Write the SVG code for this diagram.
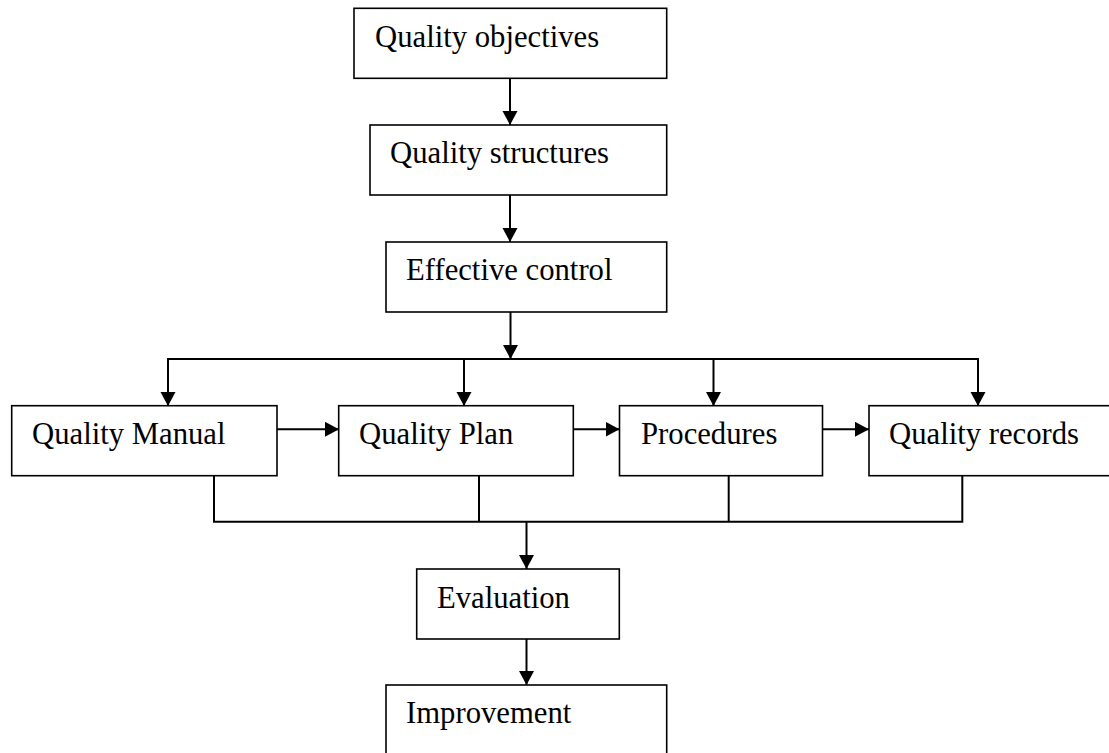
<svg xmlns="http://www.w3.org/2000/svg" width="1109" height="753" viewBox="0 0 1109 753">
<style>
  .box { fill: #ffffff; stroke: #000000; stroke-width: 1.6; }
  .lbl { font-size: 30.7px; fill: #000000; }
  .ln { fill: none; stroke: #000000; stroke-width: 2; }
  .ar { fill: none; stroke: #000000; stroke-width: 2; marker-end: url(#ah); }
</style>
<defs>
  <marker id="ah" markerUnits="userSpaceOnUse" markerWidth="16" markerHeight="16" refX="14" refY="7.5" orient="auto">
    <path d="M0,0 L14,7.5 L0,15 Z" fill="#000000"/>
  </marker>
</defs>
<rect x="0" y="0" width="1109" height="753" fill="#ffffff"/>
<g id="connectors">
  <line class="ar" x1="510" y1="78" x2="510" y2="125"/>
  <line class="ar" x1="510" y1="195" x2="510" y2="242"/>
  <line class="ar" x1="510.5" y1="312" x2="510.5" y2="359"/>
  <line class="ln" x1="167" y1="359" x2="979" y2="359"/>
  <line class="ar" x1="168" y1="359" x2="168" y2="406"/>
  <line class="ar" x1="464" y1="359" x2="464" y2="406"/>
  <line class="ar" x1="713.5" y1="359" x2="713.5" y2="406"/>
  <line class="ar" x1="978" y1="359" x2="978" y2="406"/>
  <line class="ar" x1="277" y1="429.3" x2="339" y2="429.3"/>
  <line class="ar" x1="573.3" y1="429.3" x2="619.5" y2="429.3"/>
  <line class="ar" x1="822.5" y1="429.3" x2="869" y2="429.3"/>
  <polyline class="ln" points="214,476 214,521.7 962.3,521.7 962.3,476"/>
  <line class="ln" x1="479" y1="476" x2="479" y2="521.7"/>
  <line class="ln" x1="728.7" y1="476" x2="728.7" y2="521.7"/>
  <line class="ar" x1="526.5" y1="521.7" x2="526.5" y2="569"/>
  <line class="ar" x1="526.5" y1="639" x2="526.5" y2="685"/>
</g>
<g id="objectives">
  <rect class="box" x="354" y="8.3" width="312.7" height="70"/>
  <text class="lbl" font-family="Liberation Serif, Times New Roman, serif" x="375" y="47">Quality objectives</text>
</g>
<g id="structures">
  <rect class="box" x="370" y="125" width="296.7" height="70"/>
  <text class="lbl" font-family="Liberation Serif, Times New Roman, serif" x="390" y="163">Quality structures</text>
</g>
<g id="control">
  <rect class="box" x="386" y="242" width="280.7" height="70"/>
  <text class="lbl" font-family="Liberation Serif, Times New Roman, serif" x="406" y="280">Effective control</text>
</g>
<g id="manual">
  <rect class="box" x="11.7" y="405.7" width="265.3" height="70"/>
  <text class="lbl" font-family="Liberation Serif, Times New Roman, serif" x="32" y="444">Quality Manual</text>
</g>
<g id="plan">
  <rect class="box" x="338.7" y="405.7" width="234.6" height="70"/>
  <text class="lbl" font-family="Liberation Serif, Times New Roman, serif" x="359" y="444">Quality Plan</text>
</g>
<g id="procedures">
  <rect class="box" x="619.5" y="405.7" width="203" height="70"/>
  <text class="lbl" font-family="Liberation Serif, Times New Roman, serif" x="641" y="444">Procedures</text>
</g>
<g id="records">
  <rect class="box" x="869" y="405.7" width="260" height="70"/>
  <text class="lbl" font-family="Liberation Serif, Times New Roman, serif" x="889" y="444">Quality records</text>
</g>
<g id="evaluation">
  <rect class="box" x="416.7" y="569" width="202.6" height="70"/>
  <text class="lbl" font-family="Liberation Serif, Times New Roman, serif" x="437" y="608">Evaluation</text>
</g>
<g id="improvement">
  <rect class="box" x="386" y="685" width="280.7" height="90"/>
  <text class="lbl" font-family="Liberation Serif, Times New Roman, serif" x="406" y="723">Improvement</text>
</g>
</svg>
